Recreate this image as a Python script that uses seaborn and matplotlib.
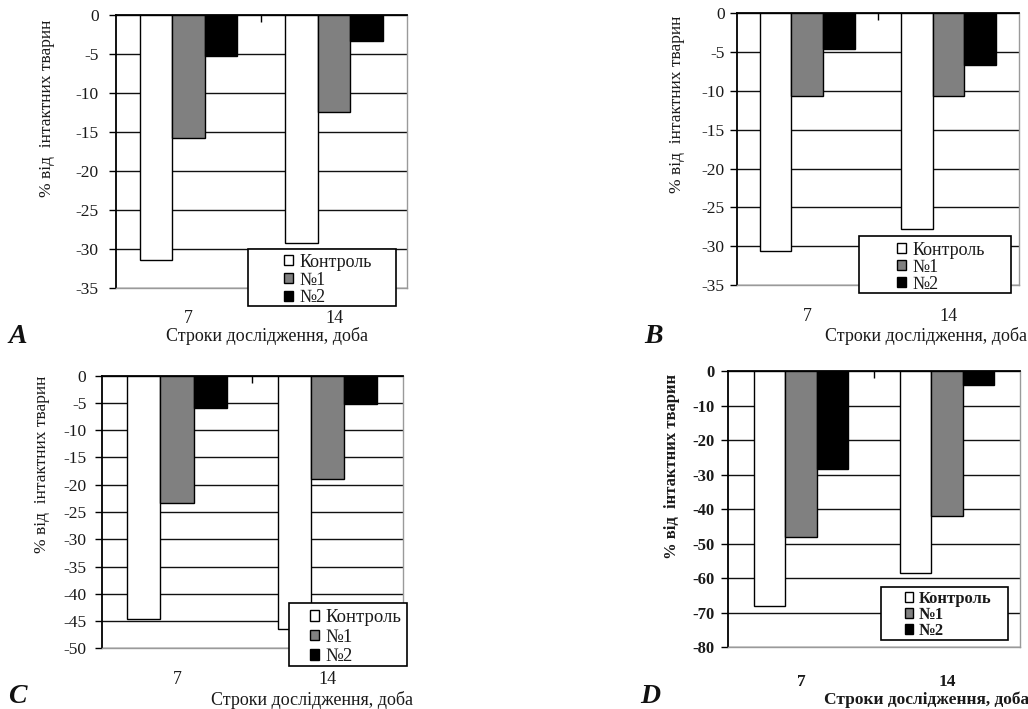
import numpy as np
import pandas as pd
import matplotlib
matplotlib.use("Agg")
import matplotlib.pyplot as plt
import seaborn as sns
from matplotlib.patches import Rectangle
from matplotlib.ticker import FixedLocator

# ---------------- data ----------------
days = ["7", "14"]
groups = ["Контроль", "№1", "№2"]

a_control = [-31.4, -29.2]
a_n1 = [-15.8, -12.4]
a_n2 = [-5.3, -3.3]

b_control = [-30.6, -27.8]
b_n1 = [-10.7, -10.7]
b_n2 = [-4.6, -6.7]

c_control = [-44.6, -46.5]
c_n1 = [-23.4, -18.9]
c_n2 = [-6.0, -5.2]

d_control = [-67.9, -58.6]
d_n1 = [-48.0, -41.9]
d_n2 = [-28.5, -4.0]

ylabel_text = "% від  інтактних тварин"
xlabel_text = "Строки дослідження, доба"
panel_letters = ["A", "B", "C", "D"]
colors = ["white", "#808080", "black"]

# ---------------- style ----------------
plt.rcParams["font.family"] = ["Liberation Serif", "DejaVu Serif"]
plt.rcParams["axes.unicode_minus"] = False

fig = plt.figure(figsize=(10.28, 7.09), dpi=100)

panels = [
    dict(vals=(a_control, a_n1, a_n2), ymin=-35, step=5,
         pos=[0.1128, 0.5938, 0.2831, 0.3850], width=0.67, bold=False,
         fs=12.5, lfs=13, ypad=7.5, xpad=15.5,
         ylab=(-0.21, 0.657), xlab=(0.52, -0.143),
         leg=(0.577, 0.029), lspace=0.05, rect=(0.4536, -0.0659, 0.5084, 0.2088),
         letter=(0.008, 0.516)),
    dict(vals=(b_control, b_n1, b_n2), ymin=-35, step=5,
         pos=[0.7166, 0.598, 0.2746, 0.3832], width=0.67, bold=False,
         fs=12.5, lfs=13, ypad=3.5, xpad=16.5,
         ylab=(-0.183, 0.666), xlab=(0.67, -0.153),
         leg=(0.568, 0.066), lspace=0.0, rect=(0.433, -0.0294, 0.5387, 0.2097),
         letter=(0.627, 0.516)),
    dict(vals=(c_control, c_n1, c_n2), ymin=-50, step=5,
         pos=[0.0989, 0.0856, 0.2931, 0.3845], width=0.66, bold=False,
         fs=12.5, lfs=13.5, ypad=6, xpad=16.5,
         ylab=(-0.172, 0.676), xlab=(0.698, -0.158),
         leg=(0.691, 0.041), lspace=0.12, rect=(0.6216, -0.065, 0.3917, 0.231),
         letter=(0.008, 0.008)),
    dict(vals=(d_control, d_n1, d_n2), ymin=-80, step=10,
         pos=[0.7082, 0.087, 0.2840, 0.3897], width=0.65, bold=True,
         fs=12, lfs=12, ypad=5, xpad=19,
         ylab=(-0.164, 0.656), xlab=(0.68, -0.16),
         leg=(0.606, 0.117), lspace=0.0, rect=(0.524, 0.026, 0.435, 0.192),
         letter=(0.623, 0.008)),
]

for p, letter in zip(panels, panel_letters):
    ctrl, n1, n2 = p["vals"]
    df = pd.DataFrame({
        "day": days * 3,
        "group": [groups[0]] * 2 + [groups[1]] * 2 + [groups[2]] * 2,
        "value": list(ctrl) + list(n1) + list(n2),
    })
    ax = fig.add_axes(p["pos"])
    sns.barplot(data=df, x="day", y="value", hue="group", order=days,
                hue_order=groups, palette=colors, edgecolor="black",
                linewidth=1.0, width=p["width"], gap=0, saturation=1,
                errorbar=None, ax=ax, legend=True, zorder=3)
    weight = "bold" if p["bold"] else "normal"
    tcolor = "#1a1a1a"

    ax.set_ylim(p["ymin"], 0)
    ax.set_xlim(-0.5, 1.5)
    yt = np.arange(p["ymin"], 1, p["step"])
    ax.set_yticks(yt)
    ax.set_yticklabels([str(int(v)) for v in yt], fontsize=p["fs"],
                       fontweight=weight, color=tcolor)
    ax.set_axisbelow(True)
    ax.yaxis.grid(True, color="#111111", linewidth=1.0)
    ax.xaxis.grid(False)
    ax.set_facecolor("white")

    for s in ["left", "top"]:
        ax.spines[s].set_color("black")
        ax.spines[s].set_linewidth(1.3)
    for s in ["right", "bottom"]:
        ax.spines[s].set_color("#9a9a9a")
        ax.spines[s].set_linewidth(1.0)
    ax.spines["top"].set_zorder(4)

    ax.tick_params(axis="y", direction="out", length=5, width=1,
                   color="black", pad=p["ypad"])
    ax.set_xticks(range(len(days)))
    ax.set_xticklabels(days, fontsize=p["fs"] + 0.5, fontweight=weight,
                       color=tcolor)
    ax.tick_params(axis="x", which="major", length=0, pad=p["xpad"])
    ax.xaxis.set_minor_locator(FixedLocator([0.5]))
    ax.tick_params(axis="x", which="minor", bottom=False, top=True,
                   direction="in", length=5, width=1, color="black")

    ax.set_ylabel(ylabel_text, fontsize=p["fs"], fontweight=weight, color=tcolor)
    ax.yaxis.set_label_coords(*p["ylab"])
    ax.set_xlabel(xlabel_text, fontsize=p["fs"] + 0.5, fontweight=weight,
                  color=tcolor)
    ax.xaxis.set_label_coords(*p["xlab"])
    ax.xaxis.label.set_verticalalignment("top")

    handles, labels = ax.get_legend_handles_labels()
    if ax.get_legend() is not None:
        ax.get_legend().remove()
    for h in handles:
        h.set_edgecolor("black")
        h.set_linewidth(1.0)
    rx, ry, rw, rh = p["rect"]
    ax.add_patch(Rectangle((rx, ry), rw, rh, transform=ax.transAxes,
                           facecolor="white", edgecolor="black", linewidth=1.2,
                           clip_on=False, zorder=6))
    leg = ax.legend(handles, labels, loc="center left",
                    bbox_to_anchor=p["leg"], frameon=False, borderpad=0,
                    borderaxespad=0, handlelength=0.5, handleheight=0.5,
                    handletextpad=0.35, labelspacing=p["lspace"],
                    prop=dict(size=p["lfs"], weight=weight))
    leg.set_zorder(7)
    for t in leg.get_texts():
        t.set_color(tcolor)

    fig.text(p["letter"][0], p["letter"][1], letter, fontsize=20,
             fontweight="bold", fontstyle="italic", color="#111111",
             ha="left", va="baseline")

fig.savefig("out.png", dpi=100, facecolor="white")
